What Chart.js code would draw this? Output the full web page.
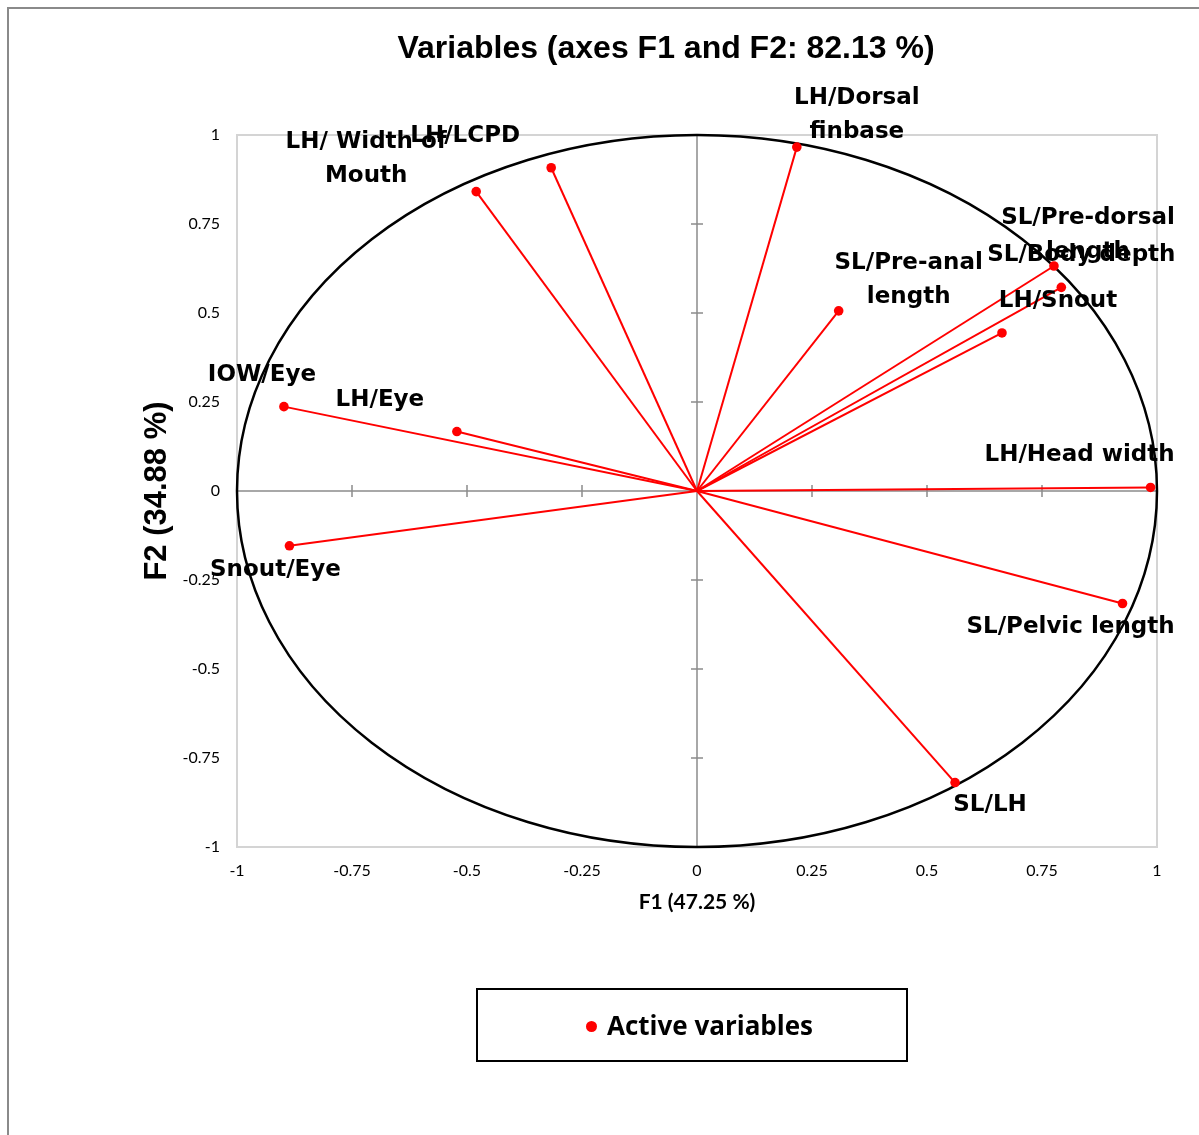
<!DOCTYPE html>
<html>
<head>
<meta charset="utf-8">
<title>Variables (axes F1 and F2: 82.13 %)</title>
<script src="https://cdn.jsdelivr.net/npm/chart.js@4.4.1/dist/chart.umd.min.js"></script>
<style>
  html, body { margin: 0; padding: 0; background: #fff; overflow: hidden; }
  #wrap { position: relative; width: 1199px; height: 1135px; }
  #frame { position: absolute; left: 7px; top: 7px; right: 0; bottom: 0;
           border-left: 2px solid #8a8a8a; border-top: 2px solid #8a8a8a; }
  #chartBox { position: absolute; left: 0; top: 0; width: 1199px; height: 1135px; }
  #title { position: absolute; left: 366px; top: 28px; width: 600px; text-align: center;
           font: bold 32px "Liberation Sans", Arial, sans-serif; line-height: 38px; color: #000; }
  #legend { position: absolute; left: 476px; top: 988px; width: 428px; height: 70px;
            border: 2px solid #000; }
  #legend .dot { position: absolute; left: 108px; top: 31px; width: 11px; height: 11px;
                 border-radius: 50%; background: #ff0000; }
  #legend .txt { position: absolute; left: 129px; top: 17px; line-height: 38px;
                 font: bold 26px "Open Sans", Lato, sans-serif; color: #000; }
</style>
</head>
<body>
<div id="wrap">
  <div id="frame"></div>
  <div id="chartBox"><canvas id="pcaChart"></canvas></div>
  <div id="title">Variables (axes F1 and F2: 82.13 %)</div>
  <div id="legend"><span class="dot"></span><span class="txt">Active variables</span></div>
</div>
<script>
// Variable names and their coordinates on F1 / F2
const varNames = ['LH/Dorsal finbase', 'LH/LCPD', 'LH/ Width of Mouth', 'SL/Pre-anal length',
  'SL/Pre-dorsal length', 'SL/Body depth', 'LH/Snout', 'LH/Head width', 'SL/Pelvic length',
  'SL/LH', 'Snout/Eye', 'IOW/Eye', 'LH/Eye'];
const f1 = [0.217, -0.317, -0.480, 0.308, 0.776, 0.792, 0.663, 0.986, 0.925, 0.561, -0.886, -0.898, -0.522];
const f2 = [0.966, 0.908, 0.841, 0.506, 0.632, 0.572, 0.444, 0.010, -0.316, -0.819, -0.154, 0.237, 0.167];
const axisTicks = [-1, -0.75, -0.5, -0.25, 0, 0.25, 0.5, 0.75, 1];

// label placement (px from the point), wrapped labels break at the last space
const labelDx = [60, -86, -110, 70, 34, 20, 56, -71, -52, 35, -14, -22, -77];
const labelDy = [-49, -32, -50, -48, -48, -32, -32, -32, 24, 22, 24, -32, -32];
const labelWrap = [true, false, true, true, true, false, false, false, false, false, false, false, false];

const RED = '#ff0000';

// frame, centre axes with tick marks, and the correlation circle
const backdrop = {
  id: 'backdrop',
  beforeDatasetsDraw(chart) {
    const { ctx, chartArea: a, scales: { x, y } } = chart;
    const x0 = x.getPixelForValue(0), y0 = y.getPixelForValue(0);
    ctx.save();
    ctx.strokeStyle = '#d4d4d4';
    ctx.lineWidth = 2;
    ctx.strokeRect(a.left, a.top, a.width, a.height);

    ctx.strokeStyle = '#8c8c8c';
    ctx.lineWidth = 1.5;
    ctx.beginPath();
    ctx.moveTo(x0, a.top); ctx.lineTo(x0, a.bottom);
    ctx.moveTo(a.left, y0); ctx.lineTo(a.right, y0);
    axisTicks.forEach(v => {
      const px = x.getPixelForValue(v), py = y.getPixelForValue(v);
      ctx.moveTo(px, y0 - 6); ctx.lineTo(px, y0 + 6);
      ctx.moveTo(x0 - 6, py); ctx.lineTo(x0 + 6, py);
    });
    ctx.stroke();

    ctx.strokeStyle = '#000';
    ctx.lineWidth = 2.5;
    ctx.beginPath();
    ctx.ellipse(x0, y0, x.getPixelForValue(1) - x0, y0 - y.getPixelForValue(1), 0, 0, Math.PI * 2);
    ctx.stroke();
    ctx.restore();
  }
};

// variable names next to the arrow tips
const varLabels = {
  id: 'varLabels',
  afterDatasetsDraw(chart) {
    const { ctx } = chart;
    ctx.save();
    ctx.font = 'bold 23px "DejaVu Sans"';
    ctx.fillStyle = '#000';
    ctx.textAlign = 'center';
    ctx.textBaseline = 'middle';
    varNames.forEach((name, i) => {
      const tip = chart.getDatasetMeta(i).data[1];
      let lines = [name];
      if (labelWrap[i]) {
        const k = name.lastIndexOf(' ');
        lines = [name.slice(0, k), name.slice(k + 1)];
      }
      lines.forEach((t, j) => ctx.fillText(t, tip.x + labelDx[i], tip.y + labelDy[i] + j * 34));
    });
    ctx.restore();
  }
};

const datasets = varNames.map((name, i) => ({
  label: name,
  data: [{ x: 0, y: 0 }, { x: f1[i], y: f2[i] }],
  showLine: true,
  borderColor: RED,
  borderWidth: 2,
  pointRadius: c => (c.dataIndex === 0 ? 0 : 4.8),
  pointHoverRadius: c => (c.dataIndex === 0 ? 0 : 4.8),
  pointBackgroundColor: RED,
  pointBorderWidth: 0
}));

const tickFont = { family: 'Lato', size: 16 };

new Chart(document.getElementById('pcaChart'), {
  type: 'scatter',
  data: { datasets },
  plugins: [backdrop, varLabels],
  options: {
    responsive: true,
    maintainAspectRatio: false,
    animation: false,
    events: [],
    layout: { padding: { left: 139, right: 42, top: 135, bottom: 208 } },
    plugins: { legend: { display: false }, tooltip: { enabled: false }, title: { display: false } },
    scales: {
      x: {
        type: 'linear', min: -1, max: 1,
        grid: { display: false, drawTicks: false },
        border: { display: false },
        ticks: { stepSize: 0.25, autoSkip: false, maxRotation: 0, padding: 14, color: '#000', font: tickFont,
                 callback: v => String(v) },
        title: { display: true, text: 'F1 (47.25 %)', color: '#000',
                 font: { family: 'Lato', size: 21, weight: 'bold' }, padding: { top: 0, bottom: 12 } },
        afterFit: s => { s.height = 80; }
      },
      y: {
        type: 'linear', min: -1, max: 1,
        grid: { display: false, drawTicks: false },
        border: { display: false },
        ticks: { stepSize: 0.25, autoSkip: false, padding: 17, color: '#000', font: tickFont,
                 callback: v => String(v) },
        title: { display: true, text: 'F2 (34.88 %)', color: '#000',
                 font: { family: 'Liberation Sans', size: 31, weight: 'bold' }, padding: { top: 0, bottom: 0 } },
        afterFit: s => { s.width = 98; }
      }
    }
  }
});
</script>
</body>
</html>
